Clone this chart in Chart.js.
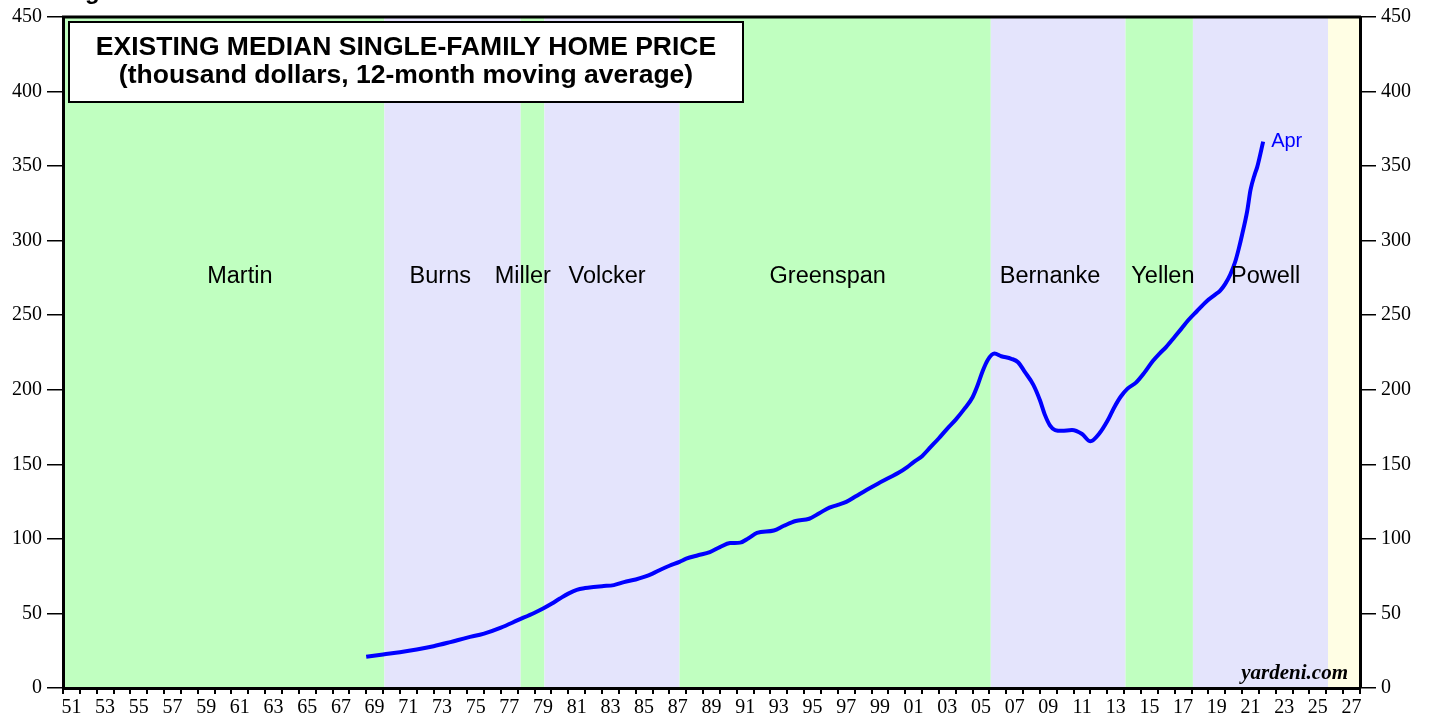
<!DOCTYPE html>
<html>
<head>
<meta charset="utf-8">
<title>Existing median single-family home price</title>
<script src="https://cdn.jsdelivr.net/npm/chart.js@4.4.1/dist/chart.umd.min.js"></script>
<style>
  html, body { margin: 0; padding: 0; background: #fff; }
  canvas { display: block; }
</style>
</head>
<body>
<canvas id="grafico" width="1429" height="721"></canvas>
<script>
// --- data ---
const fechas = [
  1969.0, 1970.0, 1971.0, 1972.0, 1973.0, 1974.0, 1975.0, 1976.0, 1977.0, 1978.0,
  1979.0, 1979.5, 1980.0, 1980.5, 1981.0, 1981.5, 1982.0, 1982.5, 1983.0, 1983.7,
  1984.3, 1985.0, 1985.5, 1986.0, 1986.5, 1987.0, 1987.6, 1988.0, 1988.7, 1989.4,
  1990.0, 1990.6, 1991.2, 1991.7, 1992.2, 1993.2, 1993.8, 1994.5, 1995.3, 1995.9,
  1996.5, 1997.0, 1997.5, 1998.1, 1998.7, 1999.4, 2000.1, 2000.6, 2001.1, 2001.5,
  2002.0, 2002.5, 2003.0, 2003.5, 2004.0, 2004.5, 2005.0, 2005.3, 2005.6, 2005.9,
  2006.3, 2006.7, 2007.3, 2007.7, 2008.1, 2008.6, 2009.0, 2009.3, 2009.6, 2009.9,
  2010.3, 2010.9, 2011.5, 2012.0, 2012.5, 2013.0, 2013.4, 2013.8, 2014.2, 2014.7,
  2015.2, 2015.7, 2016.1, 2016.5, 2017.0, 2017.4, 2017.8, 2018.3, 2018.9, 2019.4,
  2019.7, 2020.0, 2020.3, 2020.6, 2020.8, 2021.0, 2021.3, 2021.5, 2021.75, 2021.9,
  2022.25
];
const precios = [
  20.9, 22.5, 24.0, 25.8, 28.0, 30.8, 33.8, 36.5, 40.5, 45.5,
  50.5, 53.3, 56.5, 60.0, 63.3, 65.8, 67.0, 67.7, 68.3, 69.0,
  71.0, 72.8, 74.5, 76.7, 79.5, 82.0, 84.6, 86.7, 89.0, 91.2,
  94.5, 97.2, 97.5, 100.5, 104.0, 105.6, 108.8, 112.0, 113.5, 117.2,
  121.0, 122.8, 124.8, 128.8, 132.8, 137.2, 141.3, 144.3, 148.0, 151.5,
  155.5, 161.5, 167.5, 174.0, 180.0, 187.0, 195.0, 203.0, 212.6, 220.0,
  224.3, 222.5, 220.8, 218.5, 212.0, 203.5, 193.0, 183.0, 176.0, 173.0,
  172.5, 173.0, 170.3, 165.4, 170.3, 179.0, 188.0, 195.5, 200.8, 204.8,
  211.5, 219.3, 224.3, 228.8, 235.5, 241.0, 246.6, 252.5, 259.4, 263.8,
  266.5, 271.0, 277.3, 286.2, 294.5, 304.0, 319.6, 334.0, 344.5, 349.5,
  366.4
];

// Fed chairs and the start of each term
const presidentes = ["Martin", "Burns", "Miller", "Volcker", "Greenspan", "Bernanke", "Yellen", "Powell"];
const inicioMandato = [1951.0, 1970.08, 1978.17, 1979.58, 1987.6, 2006.08, 2014.08, 2018.08];
const finUltimo = 2026.1;

const yTicks = [0, 50, 100, 150, 200, 250, 300, 350, 400, 450];
const xEtiquetas = ["51","53","55","57","59","61","63","65","67","69","71","73","75","77","79",
  "81","83","85","87","89","91","93","95","97","99","01","03","05","07","09","11","13","15",
  "17","19","21","23","25","27"];

const titulo1 = "EXISTING MEDIAN SINGLE-FAMILY HOME PRICE";
const titulo2 = "(thousand dollars, 12-month moving average)";
const ultimoMes = "Apr";

// --- layout (not data) ---
const etiquetaX = [1961.5, 1973.4, 1978.3, 1983.3, 1996.4, 2009.6, 2016.3, 2022.4];
const etiquetaY = 276;
const colores = ["#c0ffc0", "#e4e4fc"];
const colorFuturo = "#fffee4";

const SANS = "'Liberation Sans', Arial, sans-serif";
const SERIF = "'Liberation Serif', 'Times New Roman', serif";

// --- fondos de presidentes ---
const fondos = {
  id: "fondos",
  beforeDraw(chart) {
    const { ctx, chartArea: a, scales: { x } } = chart;
    ctx.save();
    ctx.fillStyle = "#fff";
    ctx.fillRect(0, 0, chart.width, chart.height);
    for (let i = 0; i < presidentes.length; i++) {
      const fin = i + 1 < inicioMandato.length ? inicioMandato[i + 1] : finUltimo;
      const x0 = x.getPixelForValue(inicioMandato[i]);
      const x1 = x.getPixelForValue(fin);
      ctx.fillStyle = colores[i % 2];
      ctx.fillRect(x0, a.top, x1 - x0, a.bottom - a.top);
    }
    const xf = x.getPixelForValue(finUltimo);
    ctx.fillStyle = colorFuturo;
    ctx.fillRect(xf, a.top, a.right - xf, a.bottom - a.top);
    ctx.restore();
  }
};

// --- textos encima ---
const textos = {
  id: "textos",
  afterDatasetsDraw(chart) {
    const { ctx, chartArea: a, scales: { x, y } } = chart;
    ctx.save();

    // nombres
    ctx.fillStyle = "#000";
    ctx.font = "23.5px " + SANS;
    ctx.textAlign = "center";
    ctx.textBaseline = "middle";
    presidentes.forEach((p, i) => {
      ctx.fillText(p, x.getPixelForValue(etiquetaX[i]), y.getPixelForValue(etiquetaY));
    });

    // Apr
    const n = fechas.length - 1;
    ctx.fillStyle = "#0000ff";
    ctx.font = "20px " + SANS;
    ctx.textAlign = "left";
    ctx.fillText(ultimoMes, x.getPixelForValue(fechas[n]) + 8, y.getPixelForValue(precios[n]));

    // caja del titulo
    ctx.fillStyle = "#fff";
    ctx.fillRect(69, 22, 674, 80);
    ctx.strokeStyle = "#000";
    ctx.lineWidth = 2;
    ctx.strokeRect(69, 22, 674, 80);
    ctx.fillStyle = "#000";
    ctx.font = "bold 26.5px " + SANS;
    ctx.textAlign = "center";
    ctx.fillText(titulo1, 406, 48);
    ctx.fillText(titulo2, 406, 76);

    // yardeni.com
    ctx.font = "italic bold 21px " + SERIF;
    ctx.textAlign = "right";
    ctx.textBaseline = "alphabetic";
    ctx.fillText("yardeni.com", 1348, 679);

    // texto cortado arriba
    ctx.font = "bold 24px " + SANS;
    ctx.textAlign = "left";
    ctx.fillText("g", 85, -1);

    // borde superior
    ctx.beginPath();
    ctx.lineWidth = 3;
    ctx.moveTo(a.left - 1, a.top);
    ctx.lineTo(a.right + 1, a.top);
    ctx.stroke();
    ctx.restore();
  }
};

const ejeY = (pos, ancho) => ({
  position: pos,
  min: 0,
  max: 450,
  afterBuildTicks: s => { s.ticks = yTicks.map(v => ({ value: v })); },
  ticks: { color: "#000", font: { family: SERIF, size: 20 }, padding: 5 },
  grid: { drawOnChartArea: false, tickLength: 16, color: "#000", lineWidth: 1.5 },
  border: { display: true, color: "#000", width: 3 },
  afterFit: s => { s.width = ancho; }
});

const ctx = document.getElementById("grafico");
new Chart(ctx, {
  type: "line",
  data: {
    datasets: [{
      data: fechas.map((f, i) => ({ x: f, y: precios[i] })),
      borderColor: "#0000ff",
      borderWidth: 4,
      pointRadius: 0,
      cubicInterpolationMode: "monotone",
      fill: false
    }]
  },
  options: {
    responsive: false,
    animation: false,
    layout: { padding: { top: 15, left: 0, right: 0, bottom: 0 } },
    plugins: { legend: { display: false }, tooltip: { enabled: false } },
    scales: {
      x: {
        type: "linear",
        min: 1951,
        max: 2028,
        afterBuildTicks: s => {
          const t = [];
          for (let a = 1951; a <= 2028; a++) t.push({ value: a });
          s.ticks = t;
        },
        ticks: {
          autoSkip: false,
          maxRotation: 0,
          minRotation: 0,
          labelOffset: 8.4,
          padding: 2,
          color: "#000",
          font: { family: SERIF, size: 20 },
          callback: v => ((v - 1951) % 2 === 0 ? xEtiquetas[(v - 1951) / 2] || "" : "")
        },
        grid: { drawOnChartArea: false, tickLength: 6, color: "#000", lineWidth: 2 },
        border: { display: true, color: "#000", width: 3 },
        afterFit: s => { s.height = 33; }
      },
      y: ejeY("left", 63),
      y2: ejeY("right", 69)
    }
  },
  plugins: [fondos, textos]
});
</script>
</body>
</html>
